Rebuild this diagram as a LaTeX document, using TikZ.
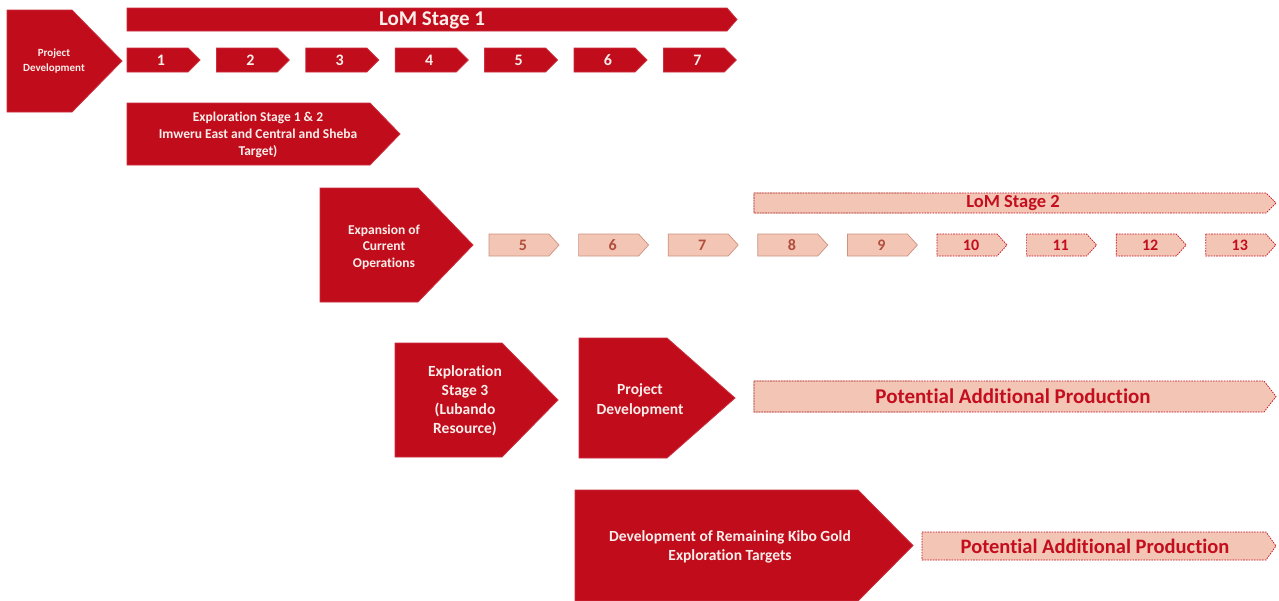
\documentclass[tikz,border=0pt]{standalone}
\usepackage{fontspec}
\setmainfont[Ligatures=NoCommon]{Carlito}
\definecolor{kred}{RGB}{193,12,28}
\definecolor{kpink}{RGB}{242,197,180}
\definecolor{ktext}{RGB}{196,14,30}
\definecolor{kbrown}{RGB}{178,78,60}
\definecolor{kedge}{RGB}{206,146,130}
\definecolor{kwhite}{RGB}{250,238,234}
% arrow-shaped box: style, left, top, tip x, bottom, tip length
\newcommand\pentshape[6]{%
  \path[#1] (#2,#3) -- ({#4-#6},#3) -- (#4,{(#3+#5)/2}) -- ({#4-#6},#5) -- (#2,#5) -- cycle;}
\tikzset{
  redshape/.style={fill=kred, draw=kred!85!white, line width=0.8pt},
  pinkdash/.style={fill=kpink, draw=ktext, dash pattern=on 1.6pt off 1.1pt, line width=0.7pt},
  pinkplain/.style={fill=kpink, draw=kedge, line width=0.7pt},
  wlabel/.style={text=kwhite, font=\bfseries, align=center, inner sep=0pt},
  rlabel/.style={text=ktext, font=\bfseries, align=center, inner sep=0pt},
}
\newcommand\fs[2]{\fontsize{#1}{#2}\selectfont}
\begin{document}
\begin{tikzpicture}[x=1pt,y=-1pt]
\fill[white] (0,0) rectangle (1279,600);
\useasboundingbox (0,0) rectangle (1279,600);

% first project development and LoM stage 1
\pentshape{redshape}{7}{10}{122}{112}{50}
\node[wlabel, font=\bfseries\fs{11}{15}] (pd1) at (54,61) {Project\\Development};

\pentshape{redshape}{127}{8}{737}{31}{10}
\node[wlabel, font=\bfseries\fs{21}{24}] (lom1) at (432,20) {LoM Stage 1};

\foreach \i in {1,...,7}{
  \pgfmathsetmacro\xl{127+(\i-1)*89.4}
  \pentshape{redshape}{\xl}{48}{\xl+73}{72}{12}
  \node[wlabel, font=\bfseries\fs{16}{18}] (n\i) at (\xl+34,60) {\i};
}

\pentshape{redshape}{127}{103}{400}{165}{30}
\node[wlabel, font=\bfseries\fs{13.5}{17}] (ex12) at (258,135)
  {Exploration Stage 1 \& 2\\Imweru East and Central and Sheba\\Target)};

% expansion of current operations and LoM stage 2
\pentshape{redshape}{320}{188}{473}{302}{55}
\node[wlabel, font=\bfseries\fs{13.5}{16.5}] (expn) at (384,247)
  {Expansion of\\Current\\Operations};

\pentshape{pinkdash}{754}{193}{1276}{213}{10}
\begin{scope}
  \clip (740,185) rectangle (912,225);
  \pentshape{draw=kedge, line width=0.9pt}{754}{193}{1276}{213}{10}
\end{scope}
\node[rlabel, font=\bfseries\fs{18.5}{20}] (lom2) at (1013,203) {LoM Stage 2};

\foreach \i in {5,...,13}{
  \pgfmathsetmacro\xl{489+(\i-5)*89.6}
  \ifnum\i<10
    \pentshape{pinkplain}{\xl}{234}{\xl+70}{256}{10}
    \node[rlabel, text=kbrown, font=\bfseries\fs{16}{18}] (m\i) at (\xl+34,245) {\i};
  \else
    \pentshape{pinkdash}{\xl}{234}{\xl+70}{256}{10}
    \node[rlabel, font=\bfseries\fs{16}{18}] (m\i) at (\xl+34,245) {\i};
  \fi
}

% Lubando resource
\pentshape{redshape}{395}{343}{558}{457}{56}
\node[wlabel, font=\bfseries\fs{15.5}{19}] (ex3) at (465,401)
  {Exploration\\Stage 3\\(Lubando\\Resource)};

\pentshape{redshape}{579}{338}{735}{458}{68}
\node[wlabel, font=\bfseries\fs{15.5}{20}] (pd2) at (640,400) {Project\\Development};

\pentshape{pinkdash}{754}{381}{1276}{412}{12}
\begin{scope}
  \clip (740,372) rectangle (912,420);
  \pentshape{draw=kedge, line width=0.9pt}{754}{381}{1276}{412}{12}
\end{scope}
\node[rlabel, font=\bfseries\fs{21}{24}] (pap1) at (1013,396) {Potential Additional Production};

% remaining Kibo Gold targets
\pentshape{redshape}{575}{490}{913}{601}{55}
\node[wlabel, font=\bfseries\fs{15.5}{19}] (dev) at (730,547)
  {Development of Remaining Kibo Gold\\Exploration Targets};

\pentshape{pinkdash}{922}{532}{1276}{560}{10}
\node[rlabel, font=\bfseries\fs{20.5}{23}] (pap2) at (1095,546) {Potential Additional Production};
\end{tikzpicture}
\end{document}
